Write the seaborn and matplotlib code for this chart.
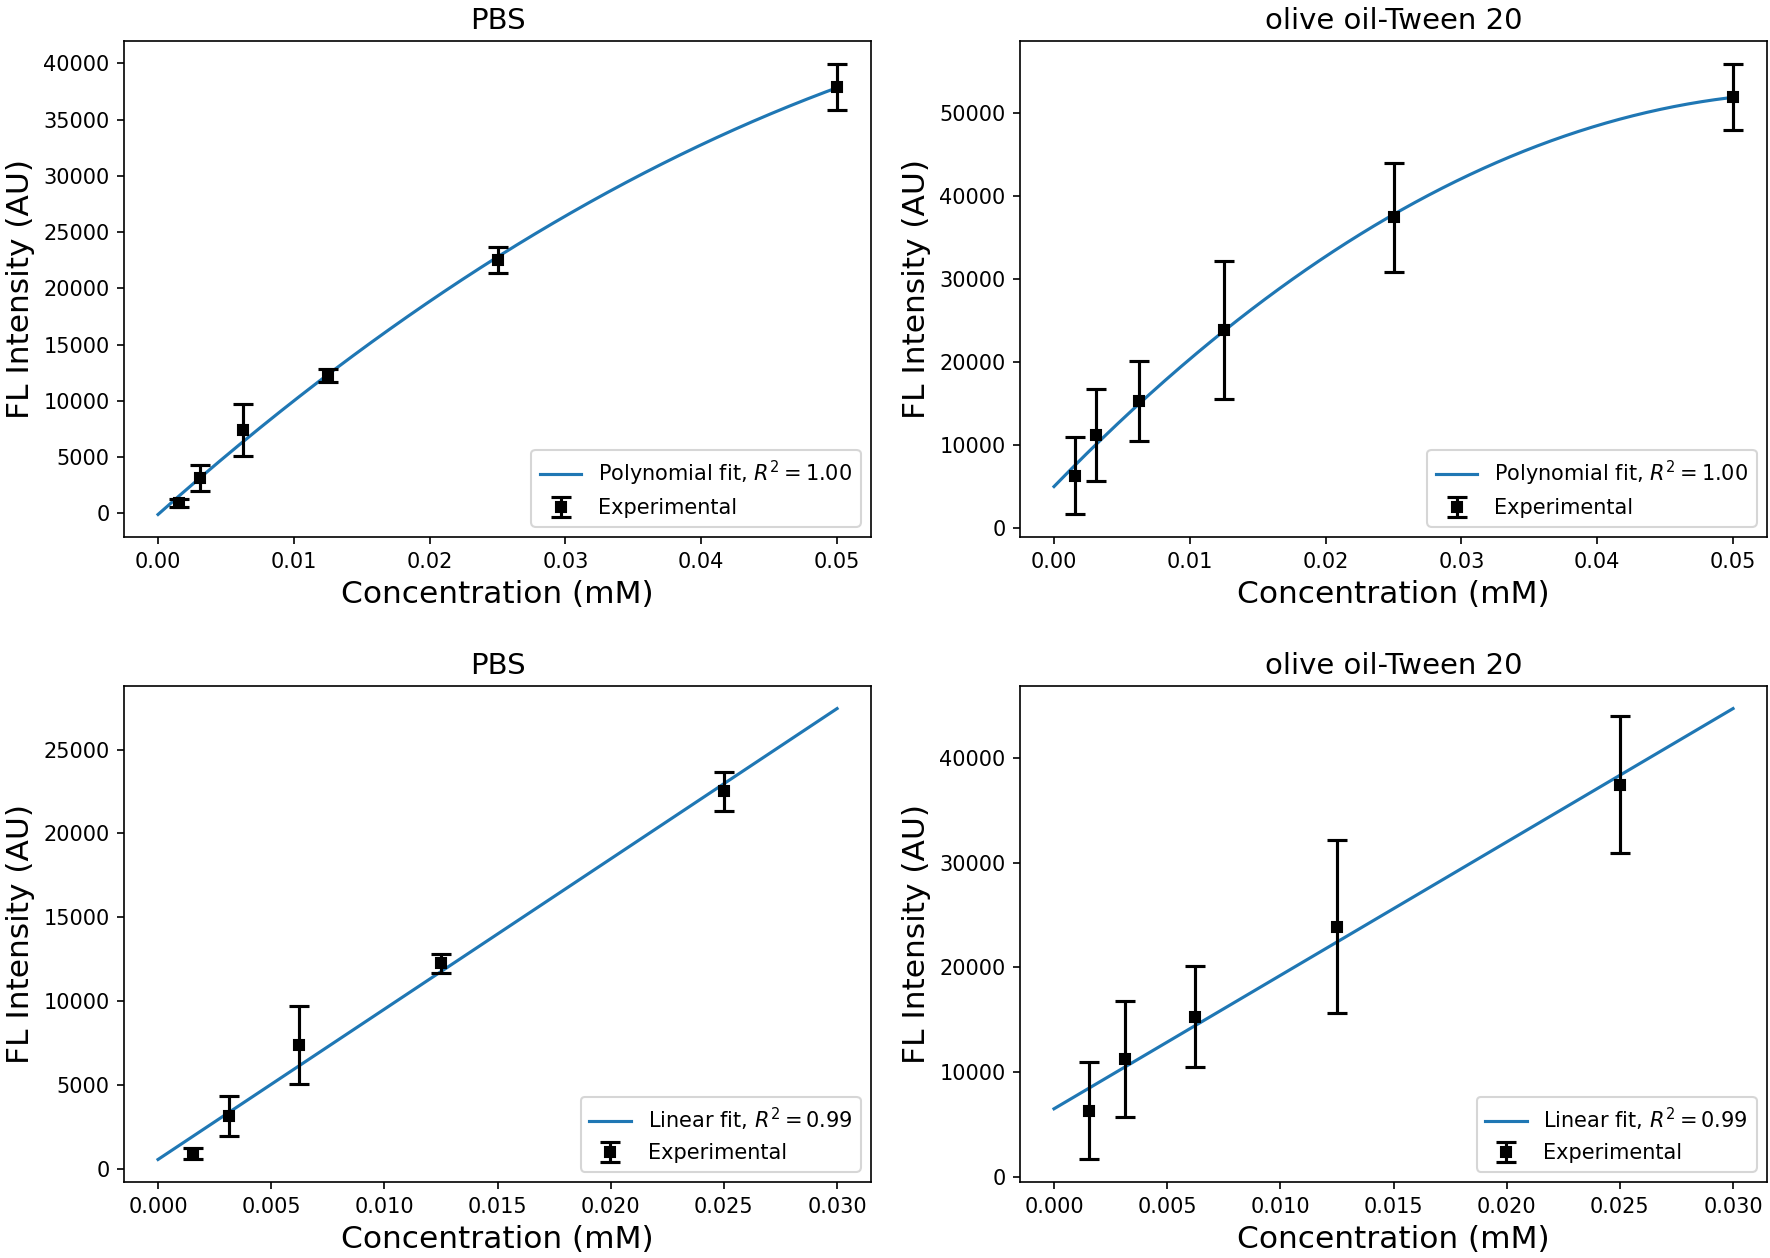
import numpy as np
import pandas as pd
import matplotlib
matplotlib.use("Agg")
import matplotlib.pyplot as plt
import seaborn as sns

# ---- data ----
conc = [0.0015625, 0.003125, 0.00625, 0.0125, 0.025, 0.05]
pbs_mean = [900, 3150, 7400, 12250, 22500, 37900]
pbs_err = [340, 1180, 2320, 580, 1150, 2080]
oil_mean = [6300, 11250, 15300, 23900, 37450, 52000]
oil_err = [4650, 5550, 4850, 8300, 6550, 4000]

titles = ["PBS", "olive oil-Tween 20"]
poly_labels = [r"Polynomial fit, $R^2 = 1.00$", r"Polynomial fit, $R^2 = 1.00$"]
lin_labels = [r"Linear fit, $R^2 = 0.99$", r"Linear fit, $R^2 = 0.99$"]
xlabel = "Concentration (mM)"
ylabel = "FL Intensity (AU)"

fit_color = "#1f77b4"

fig, axes = plt.subplots(2, 2, figsize=(11.8, 1258 / 150), dpi=150)
fig.subplots_adjust(left=0.0701, right=0.9983, top=0.9674, bottom=0.0604,
                    wspace=0.1995, hspace=0.3004)

series = [(pbs_mean, pbs_err), (oil_mean, oil_err)]

def draw(ax, x, y, e, fit_deg, xmax, label, title):
    x = np.asarray(x, float)
    y = np.asarray(y, float)
    coef = np.polyfit(x, y, fit_deg)
    xs = np.linspace(0, xmax, 300)
    df = pd.DataFrame({"x": xs, "y": np.polyval(coef, xs)})
    sns.lineplot(data=df, x="x", y="y", ax=ax, color=fit_color, lw=1.5,
                 label=label)
    ax.errorbar(x, y, yerr=e, fmt="s", color="black", ms=5, capsize=5,
                elinewidth=1.5, capthick=1.5, label="Experimental")
    ax.set_title(title, fontsize=14)
    ax.set_xlabel(xlabel, fontsize=15)
    ax.set_ylabel(ylabel, fontsize=15)
    ax.tick_params(labelsize=10)
    ax.legend(loc="lower right", fontsize=10)

for j, (m, e) in enumerate(series):
    # top row: polynomial fit on all points
    draw(axes[0, j], conc, m, e, 2, 0.05, poly_labels[j], titles[j])
    # bottom row: linear fit on first five points
    draw(axes[1, j], conc[:5], m[:5], e[:5], 1, 0.03, lin_labels[j], titles[j])

fig.savefig("out.png", dpi=150)
